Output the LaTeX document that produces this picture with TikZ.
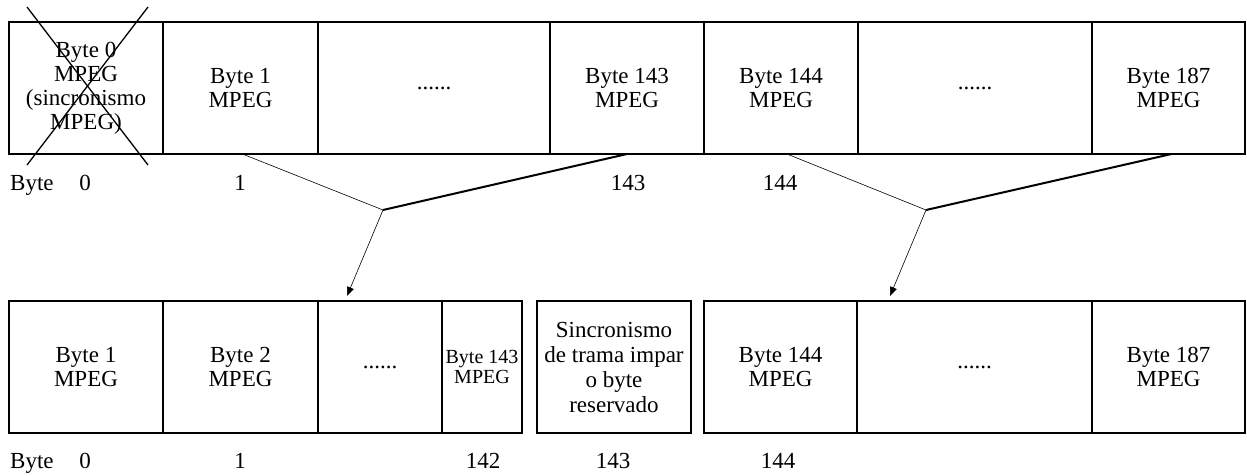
\documentclass[tikz,border=0pt]{standalone}
\usepackage{fontspec}
\setmainfont{Liberation Serif}
\usetikzlibrary{positioning,arrows.meta}
\tikzset{
    cell/.style={draw, line width=1.3pt, outer sep=0pt, inner sep=0pt, minimum height=132pt, align=center, font=\fontsize{23}{24}\selectfont},
    smallcell/.style={cell, font=\fontsize{20}{20}\selectfont},
    lbl/.style={inner sep=0pt, font=\fontsize{23}{24}\selectfont},
    thinlink/.style={line width=0.6pt},
    thicklink/.style={line width=2pt},
}
\begin{document}
\begin{tikzpicture}[x=1pt, y=-1pt]
    \useasboundingbox (0,0) rectangle (1247,475);

    % Paquete MPEG
    \node [cell, minimum width=154pt, anchor=north west] (t0) at (9,22) {Byte 0\\MPEG\\(sincronismo\\MPEG)};
    \node [cell, minimum width=155pt, right=0pt of t0] (t1) {Byte 1\\MPEG};
    \node [cell, minimum width=232pt, right=0pt of t1] (tdotsa) {......};
    \node [cell, minimum width=154pt, right=0pt of tdotsa] (t143) {Byte 143\\MPEG};
    \node [cell, minimum width=154pt, right=0pt of t143] (t144) {Byte 144\\MPEG};
    \node [cell, minimum width=234pt, right=0pt of t144] (tdotsb) {......};
    \node [cell, minimum width=153pt, right=0pt of tdotsb] (t187) {Byte 187\\MPEG};
    \draw [line width=1.3pt] (27,7) -- (148,165) (148,7) -- (27,165); % byte 0 tachado

    \node [lbl, anchor=base west] (tbyte) at (10,190) {Byte};
    \node [lbl, anchor=base] (tn0) at (85,190) {0};
    \node [lbl, anchor=base] (tn1) at (240,190) {1};
    \node [lbl, anchor=base] (tn143) at (628,190) {143};
    \node [lbl, anchor=base] (tn144) at (780,190) {144};

    % Trama
    \node [cell, minimum width=154pt, anchor=north west] (b1) at (9,301) {Byte 1\\MPEG};
    \node [cell, minimum width=155pt, right=0pt of b1] (b2) {Byte 2\\MPEG};
    \node [cell, minimum width=124pt, right=0pt of b2] (bdotsa) {......};
    \node [smallcell, minimum width=80pt, right=0pt of bdotsa] (b143) {Byte 143\\MPEG};
    \node [cell, minimum width=154pt, anchor=north west, font=\fontsize{23}{25}\selectfont] (bsync) at (537,301) {Sincronismo\\de trama impar\\o byte\\reservado};
    \node [cell, minimum width=153pt, anchor=north west] (b144) at (704,301) {Byte 144\\MPEG};
    \node [cell, minimum width=235pt, right=0pt of b144] (bdotsb) {......};
    \node [cell, minimum width=153pt, right=0pt of bdotsb] (b187) {Byte 187\\MPEG};

    \node [lbl, anchor=base west] (bbyte) at (10,468) {Byte};
    \node [lbl, anchor=base] (bn0) at (85,468) {0};
    \node [lbl, anchor=base] (bn1) at (240,468) {1};
    \node [lbl, anchor=base] (bn142) at (483,468) {142};
    \node [lbl, anchor=base] (bn143) at (613,468) {143};
    \node [lbl, anchor=base] (bn144) at (778,468) {144};

    % Enlaces
    \coordinate (ja) at (383,210);
    \coordinate (jb) at (926,210);
    \coordinate (tipa) at (347,296);
    \coordinate (tipb) at (890,296);
    \draw [thinlink] ([xshift=2pt]t1.south) -- (ja);
    \draw [thicklink] (ja) -- (t143.south);
    \draw [thinlink, -{Triangle[length=9pt, width=7pt]}] (ja) -- (tipa);
    \draw [thinlink] ([xshift=6pt]t144.south) -- (jb);
    \draw [thicklink] (jb) -- ([xshift=3pt]t187.south);
    \draw [thinlink, -{Triangle[length=9pt, width=7pt]}] (jb) -- (tipb);
\end{tikzpicture}
\end{document}
